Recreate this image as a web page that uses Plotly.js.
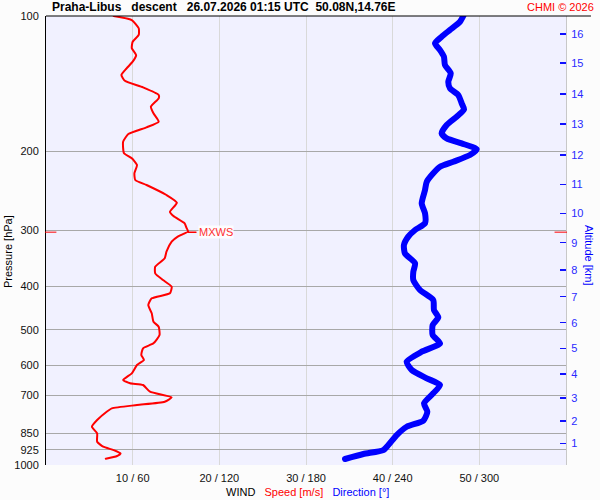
<!DOCTYPE html>
<html>
<head>
<meta charset="utf-8">
<script src="https://cdn.plot.ly/plotly-3.0.1.min.js"></script>
<style>
  html, body { margin: 0; padding: 0; background: #fcfcfc; }
  #chart { width: 600px; height: 500px; }
  #chart .scatterlayer path.js-line { stroke-linejoin: round; stroke-linecap: round; }
</style>
</head>
<body>
<div id="chart"></div>
<script>
// ---- Data ----
// Wind speed profile [m/s] vs pressure [hPa]
var speedPressure = [100,102.1,106.5,110.2,114.1,118.0,122.2,126.4,130.8,135.3,139.4,144.2,149.9,152.5,159.2,164.7,172.0,177.0,183.2,190.5,202.2,207.5,214.7,224.0,231.9,237.9,250.4,260.5,272.9,278.9,289.5,296,302,306,310,318.2,334.9,346.4,361.7,374.2,387.3,400.8,414.6,425.4,440.3,459.4,479.6,492.0,513.4,535.8,549.6,568.9,583.7,598.9,624.9,646.7,657.7,663.5,686.7,706.8,722.8,735.3,747.8,761.0,794.1,821.8,850.1,887.5,910.5,926.3,941.9,955.0,968.3];
var speed = [7.8,9.9,10.7,10.7,10.0,9.9,10.4,10.0,9.3,8.7,9.1,11.2,13.0,13.0,12.1,12.4,13.0,11.6,9.5,8.9,9.0,9.9,10.5,10.2,10.3,11.6,13.9,15.1,14.3,14.7,16.0,16.2,16.4,15.8,15.2,14.5,13.9,13.7,12.6,12.6,13.5,14.5,14.3,12.2,11.8,12.2,12.4,13.0,13.1,12.4,11.2,11.0,11.3,10.5,9.9,8.9,9.7,11.2,12.0,14.5,13.7,10.5,7.6,7.0,5.9,5.3,5.9,5.9,6.6,7.8,8.6,8.2,6.9];

// Wind direction profile [deg] vs pressure [hPa]
var directionPressure = [100,103.0,107.4,111.2,115.0,119.1,123.2,128.6,134.2,140.1,144.9,149.9,156.5,161.4,167.6,174.9,182.5,187.3,192.2,198.1,204.0,211.1,216.6,224.0,233.9,244.1,261.3,275.1,289.5,299.6,310.0,323.6,337.7,355.4,371.1,387.3,407.6,429.2,451.7,469.0,487.7,513.4,535.8,559.4,588.9,614.4,641.1,663.5,692.3,728.9,761.0,796.9,821.8,857.5,902.7,926.3,945.2,969.7];
var direction = [288.9,286.6,279.7,273.9,269.3,272.8,275.5,276.2,280.2,278.5,279.7,285.4,287.8,289.4,284.3,277.4,273.9,277.4,287.8,298.2,293.5,282.0,272.8,268.1,263.6,262.4,260.1,262.4,262.4,255.5,250.8,247.8,248.5,255.5,254.3,254.3,258.9,268.1,268.6,271.6,267.7,267.7,272.8,260.1,249.7,253.2,263.6,272.8,268.1,261.7,264.0,261.2,249.7,242.8,237.0,233.5,219.7,207.0];

// Maximum wind level
var maxWindPressure = 303;
var maxWindSpeed = 16.4;

// Axis ticks
var pressureTicks = [100,200,300,400,500,600,700,850,925,1000];
var windTickVals = [10,20,30,40,50];
var windTickText = ["10 / 60","20 / 120","30 / 180","40 / 240","50 / 300"];
var altitudeKm = [1,2,3,4,5,6,7,8,9,10,11,12,13,14,15,16];
var altitudePressure = [894.9,798.1,708.3,627.1,549.6,482.1,421.9,368.0,319.8,275.1,237.1,204.0,174.0,149.2,127.4,109.7];

// ---- Chart ----
var FONT = "Liberation Sans, Arial, Helvetica, sans-serif";
var NB = "\u00a0";

var traces = [
  {
    x: direction, y: directionPressure, xaxis: "x2", yaxis: "y",
    type: "scatter", mode: "lines",
    line: {color: "#0000ff", width: 6, shape: "spline", smoothing: 0.6},
    hoverinfo: "skip", showlegend: false
  },
  {
    x: speed, y: speedPressure, xaxis: "x", yaxis: "y",
    type: "scatter", mode: "lines",
    line: {color: "#ff0000", width: 2, shape: "spline", smoothing: 0.5},
    hoverinfo: "skip", showlegend: false
  },
  {
    x: [maxWindSpeed, maxWindSpeed + 0.9], y: [maxWindPressure, maxWindPressure],
    xaxis: "x", yaxis: "y", type: "scatter", mode: "lines",
    line: {color: "#ff0000", width: 1.5},
    hoverinfo: "skip", showlegend: false
  },
  {
    x: [null], y: [null], xaxis: "x", yaxis: "y2", type: "scatter", mode: "lines",
    hoverinfo: "skip", showlegend: false
  }
];

var layout = {
  width: 600, height: 500,
  margin: {l: 46, r: 34, t: 16, b: 35, pad: 0},
  paper_bgcolor: "#fcfcfc",
  plot_bgcolor: "#f1f1ff",
  font: {family: FONT, size: 11, color: "#000"},
  showlegend: false,
  xaxis: {
    range: [0, 60], tickvals: windTickVals, ticktext: windTickText,
    showgrid: true, gridcolor: "#d9d9d9", gridwidth: 1,
    zeroline: false, showline: false, ticks: "",
    tickfont: {size: 11, color: "#111"}, ticklabelstandoff: 5,
    fixedrange: true
  },
  xaxis2: {
    range: [0, 360], overlaying: "x", anchor: "y", visible: false
  },
  yaxis: {
    type: "log", range: [3, 2],
    tickvals: pressureTicks, ticktext: pressureTicks.map(String),
    showgrid: true, gridcolor: "#a8a8a8", gridwidth: 1,
    zeroline: false, showline: true, linecolor: "#000", linewidth: 1,
    ticks: "", tickfont: {size: 11, color: "#111"}, ticklabelstandoff: 4
  },
  yaxis2: {
    type: "log", range: [3, 2], overlaying: "y", side: "right", anchor: "x",
    tickvals: altitudePressure, ticktext: altitudeKm.map(String),
    showgrid: false, zeroline: false,
    showline: true, linecolor: "#c8c8c8", linewidth: 1,
    ticks: "inside", ticklen: 6, tickwidth: 1.5, tickcolor: "#1010ff",
    tickfont: {size: 11, color: "#2a2aff"}, ticklabelstandoff: 2
  },
  shapes: [
    {type: "line", xref: "paper", yref: "paper", x0: 0, x1: 1.048, y0: 1, y1: 1,
     line: {color: "#000", width: 1}},
    {type: "line", xref: "paper", yref: "y", x0: -0.002, x1: 0.02,
     y0: maxWindPressure, y1: maxWindPressure, line: {color: "#ff0000", width: 1}},
    {type: "line", xref: "paper", yref: "y", x0: 0.978, x1: 1.002,
     y0: maxWindPressure, y1: maxWindPressure, line: {color: "#ff0000", width: 1}}
  ],
  annotations: [
    {xref: "paper", yref: "paper", x: 0.0077, y: 1.021, xanchor: "left", yanchor: "middle",
     showarrow: false,
     text: "<b>Praha-Libus" + NB+NB+NB + "descent" + NB+NB+NB + "26.07.2026 01:15 UTC" + NB+NB + "50.08N,14.76E</b>",
     font: {family: FONT, size: 12, color: "#000"}},
    {xref: "paper", yref: "paper", x: 1.0577, y: 1.021, xanchor: "right", yanchor: "middle",
     showarrow: false, text: "CHMI © 2026",
     font: {family: FONT, size: 11, color: "#ff0000"}},
    {xref: "paper", yref: "paper", x: -0.0731, y: 0.4766, xanchor: "center", yanchor: "middle",
     showarrow: false, textangle: -90, text: "Pressure [hPa]",
     font: {family: FONT, size: 11, color: "#000"}},
    {xref: "paper", yref: "paper", x: 1.0442, y: 0.4655, xanchor: "center", yanchor: "middle",
     showarrow: false, textangle: 90, text: "Altitude [km]",
     font: {family: FONT, size: 11, color: "#0000ff"}},
    {xref: "paper", yref: "paper", x: 0.502, y: -0.0601, xanchor: "center", yanchor: "middle",
     showarrow: false,
     text: "WIND" + NB+NB+NB + "<span style='color:#ff0000'>Speed [m/s]</span>" + NB+NB+NB + "<span style='color:#0000ff'>Direction [°]</span>",
     font: {family: FONT, size: 11, color: "#000"}},
    {xref: "x", yref: "y", x: 17.5, y: Math.log10(maxWindPressure), xanchor: "left", yanchor: "middle",
     showarrow: false, text: "MXWS", bgcolor: "rgba(255,255,255,0.85)", borderpad: 0,
     font: {family: FONT, size: 11, color: "#ff3030"}}
  ]
};

Plotly.newPlot("chart", traces, layout, {staticPlot: true, displayModeBar: false});
</script>
</body>
</html>
